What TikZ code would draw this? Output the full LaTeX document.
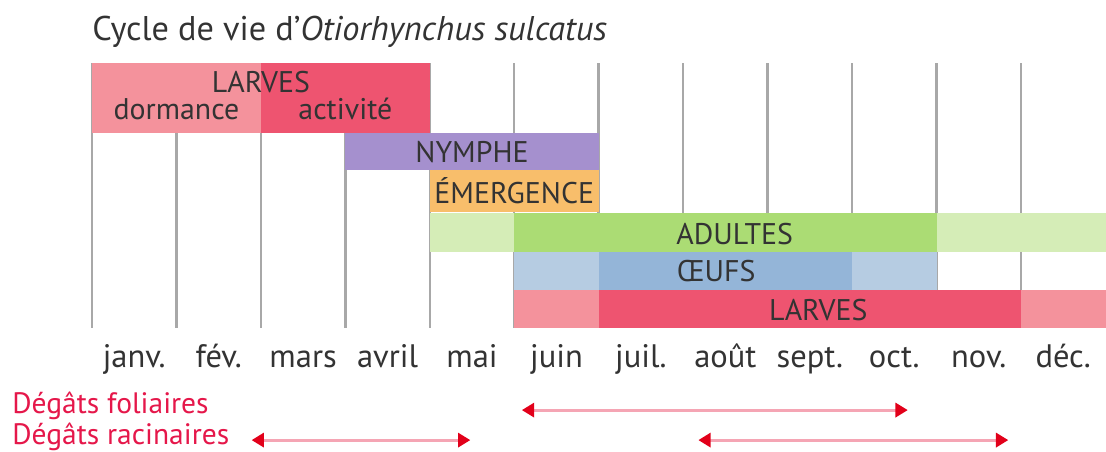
\documentclass[tikz,border=0pt]{standalone}
\usepackage{fontspec}
\setmainfont{PT Sans}
\usetikzlibrary{arrows.meta}
\definecolor{larvepale}{HTML}{F4929C}
\definecolor{larvefonce}{HTML}{EE5470}
\definecolor{nymphe}{HTML}{A590CE}
\definecolor{emergence}{HTML}{F8BE6B}
\definecolor{adultepale}{HTML}{D5EDB7}
\definecolor{adultefonce}{HTML}{ABDC74}
\definecolor{oeufpale}{HTML}{B6CCE2}
\definecolor{oeuffonce}{HTML}{94B5D8}
\definecolor{grille}{HTML}{A8A8A8}
\definecolor{texte}{HTML}{333333}
\definecolor{degat}{HTML}{E5174A}
\definecolor{flechepale}{HTML}{F5A5B4}
\definecolor{flecherouge}{HTML}{E2001A}
\def\phase[#1](#2:#3:#4:#5){\fill[#1] (#2, #4) rectangle (#3, #5);}
\tikzset{
  etiquette/.style={text=texte, font=\fontsize{17}{17}\selectfont, inner sep=0pt, anchor=base},
  mois/.style={text=texte, font=\fontsize{18.5}{18.5}\selectfont, inner sep=0pt, anchor=base},
  degats/.style={text=degat, font=\fontsize{16.8}{16.8}\selectfont, inner sep=0pt, anchor=base west},
  fleche/.style={flechepale, line width=1.7pt,
    {Triangle[length=7pt,width=8pt,color=flecherouge]}-{Triangle[length=7pt,width=8pt,color=flecherouge]}}
}

\begin{document}
\begin{tikzpicture}[x=1.689cm, y=-0.02cm]
			%%%%% START %%%%%
			\useasboundingbox (-1.0894, 0) rectangle (12.0071, 451);
			
			\node[mois, font=\fontsize{19.5}{19.5}\selectfont, anchor=base west] (titre) at (0, 40) {Cycle de vie d’\textit{Otiorhynchus sulcatus}};
			
			% grille des mois
			\foreach \i in {0,...,11}
				\draw[grille, line width=1.4pt] (\i, 63) -- (\i, 328);
			
			% larves (hiver - printemps)
			\phase[larvepale](0:2:63:133)
			\phase[larvefonce](2:4:63:133)
			\node[etiquette] (larves1) at (2, 92) {LARVES};
			\node[etiquette] (dormance) at (1, 119) {dormance};
			\node[etiquette] (activite) at (3, 119) {activité};
			
			\phase[nymphe](3:6:133:170)
			\node[etiquette] (nymphe) at (4.5, 162) {NYMPHE};
			
			\phase[emergence](4:6:170:212)
			\node[etiquette] (emergence) at (5, 203) {ÉMERGENCE};
			
			\phase[adultepale](4:12.01:213:252)
			\phase[adultefonce](5:10:213:252)
			\node[etiquette] (adultes) at (7.61, 244) {ADULTES};
			
			\phase[oeufpale](5:10:252:290)
			\phase[oeuffonce](6:9:252:290)
			\node[etiquette] (oeufs) at (7.39, 281) {ŒUFS};
			
			\phase[larvepale](5:12.01:290:328)
			\phase[larvefonce](6:11:290:328)
			\node[etiquette] (larves2) at (8.6, 320) {LARVES};
			
			% mois
			\foreach \m [count=\i from 0] in {janv.,fév.,mars,avril,mai,juin,juil.,août,sept.,oct.,nov.,déc.}
				\node[mois] (m\i) at (\i+0.5, 367) {\m};
			
			% dégâts
			\node[degats] (foliaires) at (-0.947, 413) {Dégâts foliaires};
			\node[degats] (racinaires) at (-0.947, 444) {Dégâts racinaires};
			
			\coordinate (f1) at (5.09, 410);
			\coordinate (f2) at (9.66, 410);
			\coordinate (r1) at (1.89, 440);
			\coordinate (r2) at (4.48, 440);
			\coordinate (r3) at (7.18, 440);
			\coordinate (r4) at (10.85, 440);
			\draw[fleche] (f1) -- (f2);
			\draw[fleche] (r1) -- (r2);
			\draw[fleche] (r3) -- (r4);
			
			%%%%% END %%%%%
		\end{tikzpicture}
\end{document}
